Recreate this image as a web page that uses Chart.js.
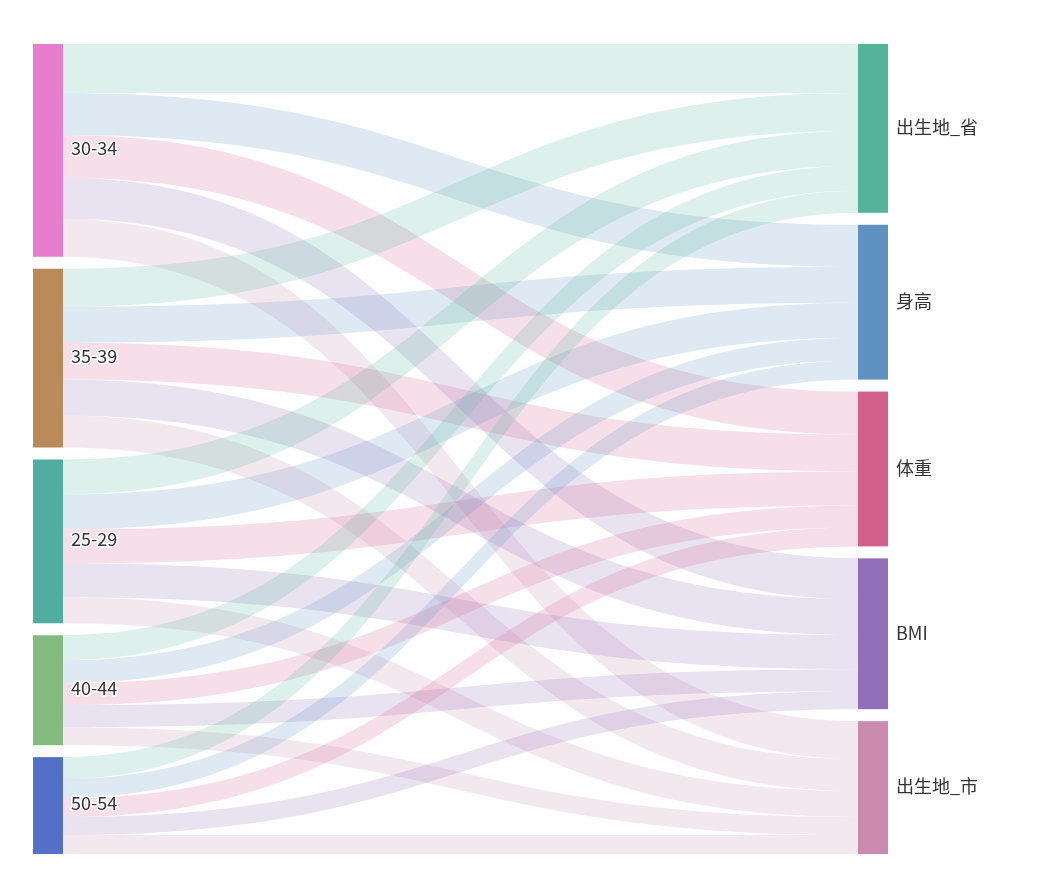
<!DOCTYPE html>
<html>
<head>
<meta charset="utf-8">
<script src="https://cdn.jsdelivr.net/npm/chart.js@4/dist/chart.umd.min.js"></script>
<style>
  html, body { margin: 0; padding: 0; background: #fff; }
  #wrap { width: 1045px; height: 894px; }
</style>
</head>
<body>
<div id="wrap"><canvas id="myChart"></canvas></div>
<script>
// source nodes (left) and target nodes (right), top to bottom
const ageGroups = ['30-34', '35-39', '25-29', '40-44', '50-54'];
const fields = ['出生地_省', '身高', '体重', 'BMI', '出生地_市'];

// flow values per age group, in the order of fields
const flows3034 = [49, 42, 43, 41, 38];
const flows3539 = [38, 36, 37, 36, 32];
const flows2529 = [35, 35, 34, 34, 26];
const flows4044 = [25, 23, 22, 22, 18];
const flows5054 = [22, 19, 19, 18, 19];

const ageColors = ['#e77ecd', '#b98a5a', '#51ad9f', '#84ba7f', '#5470c6'];
const fieldColors = ['#54b399', '#5e91c2', '#d3608a', '#9170b9', '#ca8bae'];

const flows = [flows3034, flows3539, flows2529, flows4044, flows5054];
const nodeGap = 12;   // value units between nodes
const nodeWidth = 30; // px

function sum(arr) { return arr.reduce((a, b) => a + b, 0); }

const ageTotals = flows.map(sum);
const fieldTotals = fields.map((f, j) => sum(flows.map(row => row[j])));
const yMax = sum(ageTotals) + nodeGap * (ageGroups.length - 1);

function stack(totals) {
  let pos = 0;
  return totals.map(t => { const s = pos; pos += t + nodeGap; return s; });
}
const ageStarts = stack(ageTotals);
const fieldStarts = stack(fieldTotals);

const labelFont = '18px "Noto Sans CJK SC", "Liberation Sans", sans-serif';

const sankeyPlugin = {
  id: 'sankey',
  afterDatasetsDraw(chart) {
    const ctx = chart.ctx;
    const xs = chart.scales.x, ys = chart.scales.y;
    const leftX = xs.getPixelForValue(0);
    const rightX = xs.getPixelForValue(1);
    const x0 = leftX + nodeWidth;
    const x1 = rightX - nodeWidth;
    const mid = (x0 + x1) / 2;

    const srcOff = ageStarts.slice();
    const tgtOff = fieldStarts.slice();

    ctx.save();
    // links, coloured by target
    flows.forEach((row, i) => {
      row.forEach((v, j) => {
        const sy0 = ys.getPixelForValue(srcOff[i]);
        const sy1 = ys.getPixelForValue(srcOff[i] + v);
        const ty0 = ys.getPixelForValue(tgtOff[j]);
        const ty1 = ys.getPixelForValue(tgtOff[j] + v);
        srcOff[i] += v;
        tgtOff[j] += v;
        ctx.beginPath();
        ctx.moveTo(x0, sy0);
        ctx.bezierCurveTo(mid, sy0, mid, ty0, x1, ty0);
        ctx.lineTo(x1, ty1);
        ctx.bezierCurveTo(mid, ty1, mid, sy1, x0, sy1);
        ctx.closePath();
        ctx.globalAlpha = 0.2;
        ctx.fillStyle = fieldColors[j];
        ctx.fill();
      });
    });
    ctx.globalAlpha = 1;

    // nodes
    ageGroups.forEach((name, i) => {
      const top = ys.getPixelForValue(ageStarts[i]);
      const bottom = ys.getPixelForValue(ageStarts[i] + ageTotals[i]);
      ctx.fillStyle = ageColors[i];
      ctx.fillRect(leftX, top, nodeWidth, bottom - top);
    });
    fields.forEach((name, j) => {
      const top = ys.getPixelForValue(fieldStarts[j]);
      const bottom = ys.getPixelForValue(fieldStarts[j] + fieldTotals[j]);
      ctx.fillStyle = fieldColors[j];
      ctx.fillRect(x1, top, nodeWidth, bottom - top);
    });

    // labels
    ctx.font = labelFont;
    ctx.textBaseline = 'middle';
    ctx.textAlign = 'left';
    ctx.lineJoin = 'round';
    ageGroups.forEach((name, i) => {
      const cy = ys.getPixelForValue(ageStarts[i] + ageTotals[i] / 2) - 2;
      ctx.strokeStyle = '#fff';
      ctx.lineWidth = 3;
      ctx.strokeText(name, x0 + 8, cy);
      ctx.fillStyle = '#333';
      ctx.fillText(name, x0 + 8, cy);
    });
    fields.forEach((name, j) => {
      const cy = ys.getPixelForValue(fieldStarts[j] + fieldTotals[j] / 2) - 1;
      ctx.fillStyle = '#333';
      ctx.fillText(name, rightX + 8, cy);
    });
    ctx.restore();
  }
};

new Chart(document.getElementById('myChart'), {
  type: 'scatter',
  data: { datasets: [] },
  options: {
    responsive: true,
    maintainAspectRatio: false,
    animation: false,
    layout: { padding: { left: 33, right: 157, top: 44, bottom: 40 } },
    plugins: { legend: { display: false }, tooltip: { enabled: false } },
    scales: {
      x: { type: 'linear', min: 0, max: 1, display: false },
      y: { type: 'linear', min: 0, max: yMax, reverse: true, display: false }
    }
  },
  plugins: [sankeyPlugin]
});
</script>
</body>
</html>
